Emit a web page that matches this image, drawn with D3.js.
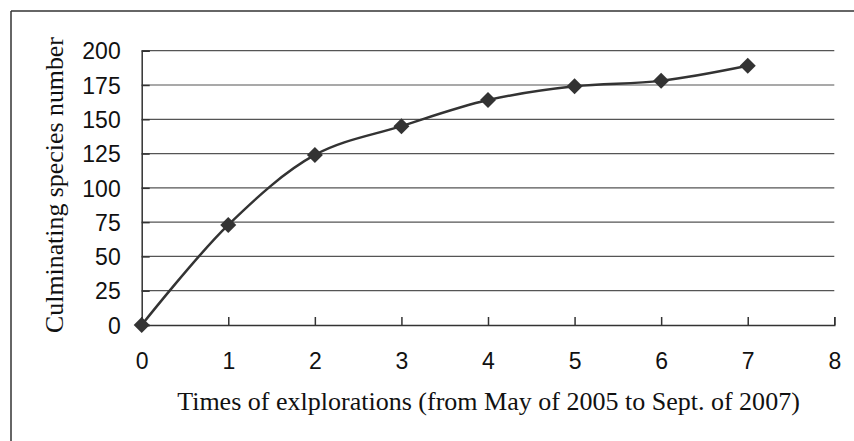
<!DOCTYPE html>
<html><head><meta charset="utf-8">
<script src="https://cdn.jsdelivr.net/npm/d3@7"></script>
<style>html,body{margin:0;padding:0;background:#fff;}svg{display:block;}</style>
</head><body>
<script>
const explorations = [0, 1, 2, 3, 4, 5, 6, 7];
const speciesCount = [0, 73, 124, 145, 164, 174, 178, 189];
const xTicks = [0, 1, 2, 3, 4, 5, 6, 7, 8];
const yTicks = [0, 25, 50, 75, 100, 125, 150, 175, 200];
const xTitle = "Times of exlplorations (from May of 2005 to Sept. of 2007)";
const yTitle = "Culminating species number";

const W = 854, H = 441;
const svg = d3.select("body").append("svg").attr("width", W).attr("height", H);
const ink = "#333";

// frame
svg.append("line").attr("x1", 11).attr("x2", W).attr("y1", 11).attr("y2", 11).attr("stroke", ink).attr("stroke-width", 1.5);
svg.append("line").attr("x1", 11).attr("x2", 11).attr("y1", 11).attr("y2", H).attr("stroke", ink).attr("stroke-width", 1.5);

const x = d3.scaleLinear().domain([0, 8]).range([141.7, 834.3]);
const y = d3.scaleLinear().domain([0, 200]).range([325, 50.7]);

// gridlines
svg.append("g").selectAll("line").data(yTicks.filter(d => d > 0)).join("line")
  .attr("x1", x(0)).attr("x2", x(8)).attr("y1", d => y(d)).attr("y2", d => y(d))
  .attr("stroke", "#555").attr("stroke-width", 1.2);

// y axis
const yAxis = svg.append("g").attr("transform", `translate(${x(0)},0)`)
  .call(d3.axisLeft(y).tickValues(yTicks).tickSize(-8).tickPadding(20).tickFormat(d3.format("d")));
yAxis.select(".domain").attr("stroke", ink).attr("stroke-width", 1.5);
yAxis.selectAll(".tick line").attr("stroke", ink).attr("stroke-width", 1.5);
yAxis.selectAll("text").attr("font-family", "'Liberation Sans', Arial, sans-serif").attr("font-size", 23).attr("fill", "#111").attr("x", -21).attr("dy", "0.36em");

// x axis
const xAxis = svg.append("g").attr("transform", `translate(0,${y(0)})`)
  .call(d3.axisBottom(x).tickValues(xTicks).tickSize(-8).tickFormat(d3.format("d")));
xAxis.select(".domain").attr("stroke", ink).attr("stroke-width", 1.5);
xAxis.selectAll(".tick line").attr("stroke", ink).attr("stroke-width", 1.5);
xAxis.selectAll("text").attr("font-family", "'Liberation Sans', Arial, sans-serif").attr("font-size", 23).attr("fill", "#111").attr("y", 44).attr("dy", 0);

// line
const data = explorations.map((e, i) => ({x: e, y: speciesCount[i]}));
const line = d3.line().x(d => x(d.x)).y(d => y(d.y)).curve(d3.curveCatmullRom.alpha(0.5));
svg.append("path").datum(data).attr("d", line).attr("fill", "none").attr("stroke", ink).attr("stroke-width", 2.5);

// markers
svg.append("g").selectAll("path").data(data).join("path")
  .attr("transform", d => `translate(${x(d.x)},${y(d.y)})`)
  .attr("d", "M0,-8L8,0L0,8L-8,0Z").attr("fill", ink);

// titles
function fit(t, target) {
  t.attr("font-size", 100);
  const w = t.node().getComputedTextLength();
  t.attr("font-size", 100 * target / w);
}
const xt = svg.append("text").attr("x", 488.5).attr("y", 410).attr("text-anchor", "middle")
  .attr("font-family", "'Liberation Serif', 'Times New Roman', serif").attr("fill", "#111").text(xTitle);
fit(xt, 623);
const yt = svg.append("text").attr("transform", "translate(63,185) rotate(-90)").attr("text-anchor", "middle")
  .attr("font-family", "'Liberation Serif', 'Times New Roman', serif").attr("fill", "#111").text(yTitle);
fit(yt, 296);
</script>
</body></html>
